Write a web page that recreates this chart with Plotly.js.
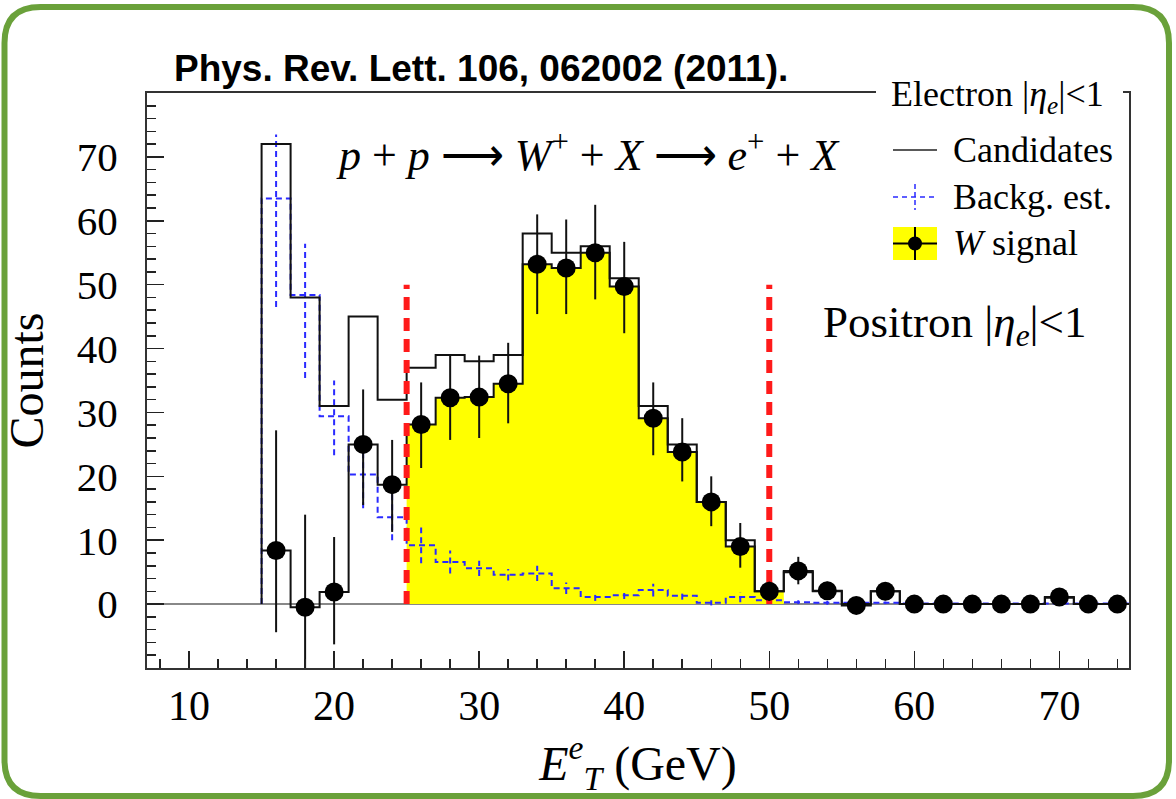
<!DOCTYPE html>
<html>
<head>
<meta charset="utf-8">
<script src="https://cdn.plot.ly/plotly-3.0.1.min.js"></script>
<style>html,body{margin:0;padding:0;background:#fff;}#chart{width:1176px;height:799px;}</style>
</head>
<body>
<div id="chart"></div>
<script>
// ---- data ----
const binEdges = [15,17,19,21,23,25,27,29,31,33,35,37,39,41,43,45,47,49,51,53,55,57,59,61,63,65,67,69,71,73,75];
const binCenters = [16,18,20,22,24,26,28,30,32,34,36,38,40,42,44,46,48,50,52,54,56,58,60,62,64,66,68,70,72,74];
const candidates = [72,48,31,45,32,37,39,38,39,58,55,56,51,31,25,16,10,2,5,2,0,2,0,0,0,0,0,1,0,0];
const background = [63.5,48.4,29.4,20.3,13.6,9.2,6.6,5.6,4.6,4.8,2.5,1.1,1.4,2.2,1.3,0.2,1.1,0.6,0.3,0.2,0.2,0.2,0.1,0.1,0.1,0.1,0.1,0.1,0.1,0.1];
const backgroundErrUp = [10,8,5.6,4.7,4.7,2.8,1.8,1.2,0.9,1.2,0.9,0.6,0.6,1.0,0.6,0.4,0.8,0.5,0.3,0.3,0.2,0.2,0.2,0.2,0.2,0.2,0.2,0.2,0.2,0.2];
const backgroundErrDown = [17,13,6.1,5.3,3.6,2.8,1.8,1.2,0.9,1.2,0.9,0.6,0.6,1.0,0.6,0.4,0.8,0.5,0.3,0.3,0.2,0.2,0.2,0.2,0.2,0.2,0.2,0.2,0.2,0.2];
const wSignal = [8.4,-0.5,1.9,25.0,18.7,28.1,32.3,32.4,34.5,53.2,52.6,55.0,49.7,29.1,23.8,16.0,9.0,2.0,5.2,2.1,-0.2,2.0,0,0,0,0,0,1.1,0,0];
const wSignalErrUp = [18.8,14.5,8.6,8.6,7.0,6.6,6.6,6.5,6.4,7.8,7.6,7.5,7.0,5.6,5.3,4.0,3.7,1.5,2.2,1.4,0.5,1.4,0.3,0.3,0.3,0.3,0.3,1.0,0.3,0.3];
const wSignalErrDown = [12.8,14.0,8.2,9.5,7.4,6.8,6.6,6.4,6.2,7.8,7.2,7.3,7.3,5.8,4.6,3.8,3.3,1.5,2.1,1.4,0.5,1.4,0.3,0.3,0.3,0.3,0.3,1.0,0.3,0.3];
const signalWindow = [25, 51];      // yellow-filled bins
const cutLines = [25, 50];          // red dashed E_T cuts
const cutHeight = 50;
const xTickVals = [10,20,30,40,50,60,70];
const yTickVals = [0,10,20,30,40,50,60,70];

// ---- helpers ----
function stepXY(edges, vals, startAtZero) {
  const x = [], y = [];
  if (startAtZero) { x.push(edges[0]); y.push(0); }
  for (let i = 0; i < vals.length; i++) { x.push(edges[i]); y.push(vals[i]); }
  x.push(edges[edges.length - 1]); y.push(vals[vals.length - 1]);
  return {x, y};
}
function segErrors(xs, ys, up, down) {
  const x = [], y = [];
  for (let i = 0; i < xs.length; i++) { x.push(xs[i], xs[i], null); y.push(ys[i] - down[i], ys[i] + up[i], null); }
  return {x, y};
}

const fillEdges = [], fillVals = [];
for (let i = 0; i < binCenters.length; i++) {
  if (binEdges[i] >= signalWindow[0] && binEdges[i + 1] <= signalWindow[1]) {
    if (fillEdges.length === 0) fillEdges.push(binEdges[i]);
    fillEdges.push(binEdges[i + 1]);
    fillVals.push(wSignal[i]);
  }
}
const fillStep = stepXY(fillEdges, fillVals, true);
fillStep.x.push(fillEdges[fillEdges.length - 1]); fillStep.y.push(0);

const candStep = stepXY(binEdges, candidates, true);
const bgStep = stepXY(binEdges, background, true);
const sigStep = stepXY(binEdges, wSignal, false);
const bgErr = segErrors(binCenters, background, backgroundErrUp, backgroundErrDown);

const cutX = [], cutY = [];
cutLines.forEach(c => { cutX.push(c, c, null); cutY.push(0, cutHeight, null); });

const traces = [
  {x: fillStep.x, y: fillStep.y, mode: 'lines', line: {shape: 'hv', width: 0}, fill: 'toself', fillcolor: '#ffff00', hoverinfo: 'skip'},
  {x: bgStep.x, y: bgStep.y, mode: 'lines', line: {shape: 'hv', color: '#2a2aff', width: 2, dash: '6px,4px'}},
  {x: bgErr.x, y: bgErr.y, mode: 'lines', line: {color: '#2a2aff', width: 2, dash: '6px,4px'}},
  {x: candStep.x, y: candStep.y, mode: 'lines', line: {shape: 'hv', color: '#111', width: 2}},
  {x: sigStep.x, y: sigStep.y, mode: 'lines', line: {shape: 'hv', color: '#111', width: 2}},
  {x: cutX, y: cutY, mode: 'lines', line: {color: '#ff1a1a', width: 6, dash: '13px,8px'}},
  {x: binCenters, y: wSignal, mode: 'markers', marker: {color: '#000', size: 19},
   error_y: {type: 'data', symmetric: false, array: wSignalErrUp, arrayminus: wSignalErrDown, color: '#111', thickness: 2, width: 0}}
];

// pixel -> paper conversion for decorations
const L = 147, R = 1129, T = 93, B = 668;
const px = v => (v - L) / (R - L);
const py = v => (B - v) / (B - T);

function roundRect(x0, y0, x1, y1, r) {
  return 'M' + px(x0 + r) + ',' + py(y0) +
    ' L' + px(x1 - r) + ',' + py(y0) +
    ' Q' + px(x1) + ',' + py(y0) + ' ' + px(x1) + ',' + py(y0 + r) +
    ' L' + px(x1) + ',' + py(y1 - r) +
    ' Q' + px(x1) + ',' + py(y1) + ' ' + px(x1 - r) + ',' + py(y1) +
    ' L' + px(x0 + r) + ',' + py(y1) +
    ' Q' + px(x0) + ',' + py(y1) + ' ' + px(x0) + ',' + py(y1 - r) +
    ' L' + px(x0) + ',' + py(y0 + r) +
    ' Q' + px(x0) + ',' + py(y0) + ' ' + px(x0 + r) + ',' + py(y0) + ' Z';
}

const serif = 'Liberation Serif, Times New Roman, serif';
const shapes = [
  // header box over top frame line
  {type: 'rect', xref: 'paper', yref: 'paper', x0: px(876), x1: px(1123), y0: py(104), y1: py(82), fillcolor: '#fff', line: {width: 0}, layer: 'above'},
  // legend samples
  {type: 'line', xref: 'paper', yref: 'paper', x0: px(893), x1: px(937), y0: py(150), y1: py(150), line: {color: '#222', width: 1.5}},
  {type: 'line', xref: 'paper', yref: 'paper', x0: px(893), x1: px(937), y0: py(197), y1: py(197), line: {color: '#2a2aff', width: 1.5, dash: '5px,4px'}},
  {type: 'line', xref: 'paper', yref: 'paper', x0: px(915), x1: px(915), y0: py(184), y1: py(210), line: {color: '#2a2aff', width: 1.5, dash: '5px,3px'}},
  {type: 'rect', xref: 'paper', yref: 'paper', x0: px(893), x1: px(937), y0: py(227), y1: py(260), fillcolor: '#ffff00', line: {width: 0}},
  {type: 'line', xref: 'paper', yref: 'paper', x0: px(893), x1: px(937), y0: py(243.5), y1: py(243.5), line: {color: '#000', width: 2}},
  {type: 'line', xref: 'paper', yref: 'paper', x0: px(915), x1: px(915), y0: py(227), y1: py(260), line: {color: '#000', width: 2}},
  {type: 'circle', xref: 'paper', yref: 'paper', x0: px(908), x1: px(922), y0: py(236.5), y1: py(250.5), fillcolor: '#000', line: {width: 0}},
  // green rounded border
  {type: 'path', xref: 'paper', yref: 'paper', path: roundRect(4.5, 7, 1169, 796, 36), line: {color: '#6aa13a', width: 6}, layer: 'above'}
];

const annotations = [
  {xref: 'paper', yref: 'paper', x: px(172), y: py(68), xanchor: 'left', yanchor: 'middle', showarrow: false,
   text: '<b>Phys. Rev. Lett. 106, 062002 (2011).</b>', font: {family: 'Liberation Sans, Arial, sans-serif', size: 37, color: '#000'}},
  {xref: 'paper', yref: 'paper', x: px(588), y: py(152), xanchor: 'center', yanchor: 'middle', showarrow: false,
   text: '<i>p</i> + <i>p</i> ⟶ <i>W</i><sup>+</sup> + <i>X</i> ⟶ <i>e</i><sup>+</sup> + <i>X</i>', font: {family: serif, size: 44, color: '#000'}},
  {xref: 'paper', yref: 'paper', x: px(821), y: py(325), xanchor: 'left', yanchor: 'middle', showarrow: false,
   text: 'Positron |<i>η<sub>e</sub></i>|&lt;1', font: {family: serif, size: 45, color: '#000'}},
  {xref: 'paper', yref: 'paper', x: px(889), y: py(97), xanchor: 'left', yanchor: 'middle', showarrow: false,
   text: 'Electron |<i>η<sub>e</sub></i>|&lt;1', font: {family: serif, size: 36, color: '#000'}},
  {xref: 'paper', yref: 'paper', x: px(951), y: py(150), xanchor: 'left', yanchor: 'middle', showarrow: false,
   text: 'Candidates', font: {family: serif, size: 36, color: '#000'}},
  {xref: 'paper', yref: 'paper', x: px(951), y: py(197), xanchor: 'left', yanchor: 'middle', showarrow: false,
   text: 'Backg. est.', font: {family: serif, size: 36, color: '#000'}},
  {xref: 'paper', yref: 'paper', x: px(951), y: py(243), xanchor: 'left', yanchor: 'middle', showarrow: false,
   text: '<i>W</i> signal', font: {family: serif, size: 36, color: '#000'}}
];

const layout = {
  width: 1176, height: 799,
  margin: {l: L, r: 1176 - R, t: T, b: 799 - B, pad: 0},
  paper_bgcolor: '#fff', plot_bgcolor: '#fff',
  showlegend: false,
  font: {family: serif, color: '#000'},
  xaxis: {
    range: [7.1, 74.8], tickvals: xTickVals, ticks: 'inside', ticklen: 17, tickwidth: 1.5, tickcolor: '#222',
    minor: {dtick: 2, tick0: 0, ticks: 'inside', ticklen: 9, tickwidth: 1.5, tickcolor: '#222'},
    showgrid: false, zeroline: false, showline: true, linecolor: '#333', linewidth: 2, mirror: true,
    tickfont: {family: serif, size: 42, color: '#000'},
    title: {text: '<i>E</i><sup><i>e</i></sup><sub><i>T</i></sub> (GeV)', font: {family: serif, size: 48, color: '#000'}, standoff: 16}
  },
  yaxis: {
    range: [-10, 80], tickvals: yTickVals, ticks: 'inside', ticklen: 17, tickwidth: 1.5, tickcolor: '#222',
    minor: {dtick: 2, tick0: 0, ticks: 'inside', ticklen: 9, tickwidth: 1.5, tickcolor: '#222'},
    showgrid: false, zeroline: true, zerolinecolor: '#888', zerolinewidth: 2,
    showline: true, linecolor: '#333', linewidth: 2, mirror: true,
    tickfont: {family: serif, size: 41, color: '#000'}, ticklabelstandoff: 19,
    title: {text: 'Counts', font: {family: serif, size: 48, color: '#000'}, standoff: 20}
  },
  shapes: shapes,
  annotations: annotations
};

Plotly.newPlot('chart', traces, layout, {staticPlot: true, displayModeBar: false});
</script>
</body>
</html>
